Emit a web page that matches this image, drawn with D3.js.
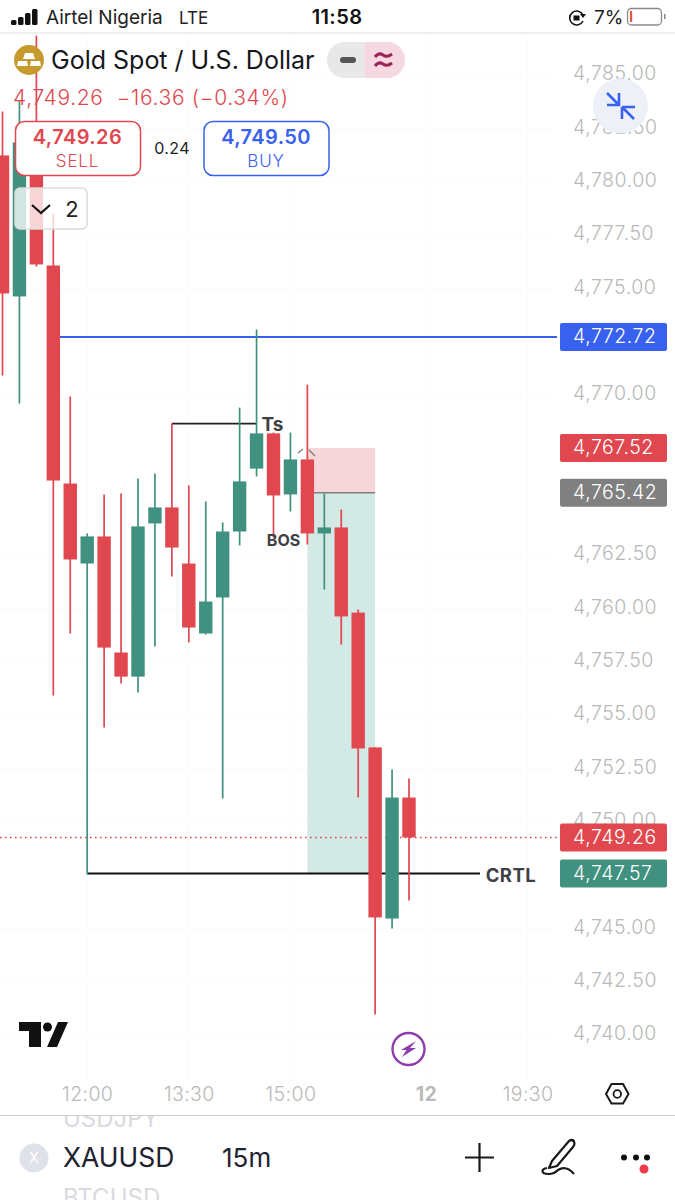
<!DOCTYPE html>
<html>
<head>
<meta charset="utf-8">
<style>
  html, body { margin: 0; padding: 0; background: #fff; }
  svg { display: block; }
  text { font-family: Inter, "Noto Sans", sans-serif; white-space: pre; }
</style>
<script src="https://cdn.jsdelivr.net/npm/d3@7"></script>
</head>
<body>
<script>
// 15m bars, left to right
const highs = [4783.29, 4783.8, 4786.85, 4778.51, 4769.93, 4763.51, 4765.34, 4765.38, 4766.09, 4766.32, 4768.66, 4765.76, 4765.01, 4764.02, 4769.41, 4773.07, 4768.24, 4768.24, 4770.49, 4765.38, 4764.63, 4759.95, 4753.48, 4752.45, 4752.02];
const opens = [4781.23, 4774.62, 4780.29, 4776.07, 4765.85, 4762.1, 4763.37, 4757.93, 4756.8, 4763.98, 4764.73, 4762.1, 4758.82, 4760.51, 4763.6, 4766.55, 4768.2, 4765.34, 4766.98, 4763.51, 4763.79, 4759.8, 4753.48, 4745.46, 4751.13];
const closes = [4774.76, 4781.84, 4776.12, 4765.99, 4762.29, 4763.37, 4758.16, 4756.8, 4763.84, 4764.73, 4762.85, 4759.1, 4760.32, 4763.6, 4765.95, 4768.2, 4765.29, 4766.98, 4763.51, 4763.79, 4759.62, 4753.43, 4745.51, 4751.13, 4749.26];
const lows = [4770.91, 4769.6, 4776.02, 4755.91, 4758.82, 4747.52, 4754.41, 4756.48, 4756.05, 4758.21, 4761.49, 4758.4, 4758.77, 4751.09, 4762.95, 4766.18, 4763.32, 4764.54, 4762.99, 4760.88, 4758.3, 4751.13, 4740.96, 4744.99, 4746.3];

const priceTicks = [4785, 4782.5, 4780, 4777.5, 4775, 4770, 4762.5, 4760, 4757.5, 4755, 4752.5, 4750, 4745, 4742.5, 4740];
const timeTicks = [5, 11, 17, 25, 31];
const timeLabels = ["12:00", "13:30", "15:00", "12", "19:30"];

const lastPrice = 4749.26;
const highLine = 4772.72;
const sweepLevel = 4768.66;
const crtlLevel = 4747.57;
const stopLevel = 4767.52;
const entryLevel = 4765.42;

const priceTags = [
  { value: highLine, color: "#3861f0" },
  { value: stopLevel, color: "#e0474f" },
  { value: entryLevel, color: "#808080" },
  { value: lastPrice, color: "#e0474f" },
  { value: crtlLevel, color: "#40917f" },
];

const red = "#e0474f";
const green = "#40917f";
const blue = "#3861f0";
const grey = "#b9b9b9";

const width = 675, height = 1200;

const x = d3.scaleLinear().domain([0, 24]).range([2.5, 409]);
const y = d3.scaleLinear().domain([4785, 4740]).range([75, 1035]);

const bars = opens.map((o, i) => ({ i, o, c: closes[i], h: highs[i], l: lows[i] }));

const svg = d3.select("body").append("svg").attr("width", width).attr("height", height);

svg.append("rect").attr("width", width).attr("height", height).attr("fill", "#fff");

svg.append("defs").append("clipPath").attr("id", "plot")
  .append("rect").attr("x", 0).attr("y", 33).attr("width", 557).attr("height", 1050);
svg.select("defs").append("clipPath").attr("id", "strip")
  .append("rect").attr("x", 0).attr("y", 1116).attr("width", width).attr("height", 84);

// faint grid
const grid = svg.append("g").attr("stroke", "#fbfbfd");
grid.selectAll("line.h").data(priceTicks).enter().append("line").attr("class", "h")
  .attr("x1", 0).attr("x2", 557).attr("y1", (d) => y(d)).attr("y2", (d) => y(d));
grid.selectAll("line.v").data(timeTicks).enter().append("line").attr("class", "v")
  .attr("x1", (d) => x(d)).attr("x2", (d) => x(d)).attr("y1", 33).attr("y2", 1083);

const plot = svg.append("g").attr("clip-path", "url(#plot)");

// long position box
plot.append("rect").attr("x", x(18)).attr("width", x(22) - x(18))
  .attr("y", y(stopLevel)).attr("height", y(entryLevel) - y(stopLevel)).attr("fill", "#f7d6da");
plot.append("rect").attr("x", x(18)).attr("width", x(22) - x(18))
  .attr("y", y(entryLevel)).attr("height", y(crtlLevel) - y(entryLevel)).attr("fill", "#d3e9e6");
plot.append("line").attr("x1", x(18)).attr("x2", x(22)).attr("y1", y(entryLevel)).attr("y2", y(entryLevel))
  .attr("stroke", "#808080").attr("stroke-width", 1.5);

// drawn levels
plot.append("line").attr("x1", x(3)).attr("x2", 557).attr("y1", y(highLine)).attr("y2", y(highLine))
  .attr("stroke", blue).attr("stroke-width", 2);
plot.append("line").attr("x1", x(10)).attr("x2", x(15)).attr("y1", y(sweepLevel)).attr("y2", y(sweepLevel))
  .attr("stroke", "#222").attr("stroke-width", 1.8);
plot.append("line").attr("x1", x(5)).attr("x2", 480).attr("y1", y(crtlLevel)).attr("y2", y(crtlLevel))
  .attr("stroke", "#111").attr("stroke-width", 1.8);
plot.append("line").attr("x1", 0).attr("x2", 557).attr("y1", y(lastPrice)).attr("y2", y(lastPrice))
  .attr("stroke", red).attr("stroke-width", 1.4).attr("stroke-dasharray", "1.6 3.4");

const candle = plot.selectAll("g.candle").data(bars).enter().append("g").attr("class", "candle")
  .attr("fill", (d) => (d.c >= d.o ? green : red))
  .attr("stroke", (d) => (d.c >= d.o ? green : red));
candle.append("line").attr("x1", (d) => x(d.i)).attr("x2", (d) => x(d.i))
  .attr("y1", (d) => y(d.h)).attr("y2", (d) => y(d.l)).attr("stroke-width", 1.7);
candle.append("rect").attr("stroke", "none")
  .attr("x", (d) => x(d.i) - 6.7).attr("width", 13.4)
  .attr("y", (d) => y(Math.max(d.o, d.c)))
  .attr("height", (d) => Math.max(1, Math.abs(y(d.o) - y(d.c))));

// little chevron over the BOS candle
svg.append("path").attr("d", "M298,453 L303,449 M309,450 L315,456")
  .attr("fill", "none").attr("stroke", "#777").attr("stroke-width", 1.2);

const note = (txt, px, py) => svg.append("text").attr("x", px).attr("y", py).attr("text-anchor", "middle")
  .attr("dy", "0.36em").attr("font-size", 17).attr("font-weight", 700).attr("fill", "#3f4144").text(txt);
note("Ts", 272.5, 424).attr("font-size", 19);
note("BOS", 283.5, 540).attr("font-size", 16);
note("CRTL", 511, 875).attr("font-size", 18.5).attr("letter-spacing", 0.5);

// price axis
const yAxis = svg.append("g").attr("transform", "translate(573,0)")
  .call(d3.axisRight(y).tickValues(priceTicks).tickFormat(d3.format(",.2f")).tickSize(0).tickPadding(0));
yAxis.select(".domain").remove();
yAxis.selectAll("text").attr("font-size", 19.5).attr("fill", grey).attr("dy", "0.24em")
  .style("font-family", "Inter, sans-serif").attr("font-weight", 300).attr("letter-spacing", 0.55);

// time axis
const xAxis = svg.append("g").attr("transform", "translate(0,1099)")
  .call(d3.axisBottom(x).tickValues(timeTicks).tickFormat((d, i) => timeLabels[i]).tickSize(0).tickPadding(0));
xAxis.select(".domain").remove();
xAxis.selectAll("text").attr("font-size", 19.5).attr("fill", grey).attr("dy", "0.1em")
  .style("font-family", "Inter, sans-serif")
  .attr("font-weight", (d, i) => (timeLabels[i] === "12" ? 700 : 300))
  .attr("letter-spacing", 0.4);

// price tags on the axis
const tag = svg.selectAll("g.tag").data(priceTags).enter().append("g").attr("class", "tag")
  .attr("transform", (d) => `translate(560,${y(d.value)})`);
tag.append("rect").attr("x", 0).attr("y", -14).attr("width", 107).attr("height", 28).attr("rx", 2)
  .attr("fill", (d) => d.color);
tag.append("text").attr("x", 13).attr("dy", "0.32em").attr("font-size", 19.5).attr("fill", "#fff")
  .attr("font-weight", 300).attr("letter-spacing", 0.55).text((d) => d3.format(",.2f")(d.value));

// header
svg.append("line").attr("x1", 0).attr("x2", width).attr("y1", 33).attr("y2", 33)
  .attr("stroke", "#dde0e7").attr("stroke-width", 1);

const coin = svg.append("g").attr("transform", "translate(29,60)");
coin.append("circle").attr("r", 15).attr("fill", "#c79a2d");
coin.append("path").attr("fill", "#fff").attr("d", "M-4,-7 L4,-7 L6,-1 L-6,-1 Z M-11,1 L-2,1 L-1,6 L-12,6 Z M2,1 L11,1 L12,6 L1,6 Z");

svg.append("text").attr("x", 51).attr("y", 69).attr("font-size", 25).attr("fill", "#15171c").attr("font-weight", 400).text("Gold Spot / U.S. Dollar");

svg.append("path").attr("fill", "#e8e8e8").attr("d", "M365,42 H345 A18,18 0 0 0 345,78 H365 Z");
svg.append("path").attr("fill", "#f6d9e0").attr("d", "M365,42 H387 A18,18 0 0 1 387,78 H365 Z");
svg.append("line").attr("x1", 343).attr("x2", 353).attr("y1", 60).attr("y2", 60)
  .attr("stroke", "#555").attr("stroke-width", 6).attr("stroke-linecap", "round");
svg.append("path").attr("fill", "none").attr("stroke", "#9c2358").attr("stroke-width", 3)
  .attr("d", "M375,57 Q379,52 383,55 T392,54 M375,66 Q379,61 383,64 T392,63");

svg.append("text").attr("x", 13).attr("y", 105).attr("font-size", 21).attr("fill", red).attr("font-weight", 300)
  .attr("letter-spacing", 0.65).text("4,749.26  −16.36 (−0.34%)");

const button = (bx, color, price, label) => {
  const g = svg.append("g").attr("transform", `translate(${bx},121)`);
  g.append("rect").attr("x", 0.5).attr("y", 0.5).attr("width", 125).attr("height", 54).attr("rx", 9)
    .attr("fill", "#fff").attr("stroke", color).attr("stroke-width", 1.5);
  g.append("text").attr("x", 62.5).attr("y", 23).attr("text-anchor", "middle").attr("font-size", 20)
    .attr("font-weight", 600).attr("letter-spacing", 0.4).attr("fill", color).text(price);
  g.append("text").attr("x", 62.5).attr("y", 46).attr("text-anchor", "middle").attr("font-size", 17)
    .attr("font-weight", 300).attr("letter-spacing", 0.8).attr("fill", color).text(label);
};
button(15, red, "4,749.26", "SELL");
button(203.5, blue, "4,749.50", "BUY");
svg.append("text").attr("x", 172).attr("y", 154).attr("text-anchor", "middle").attr("font-size", 16)
  .attr("letter-spacing", 0.4).attr("fill", "#222").text("0.24");

svg.append("rect").attr("x", 15).attr("y", 188).attr("width", 72).attr("height", 41).attr("rx", 5)
  .attr("fill", "#fff").attr("fill-opacity", 0.77).attr("stroke", "#dcdcdc").attr("stroke-width", 1.5);
svg.append("path").attr("d", "M32,205 L41,213 L50,205").attr("fill", "none").attr("stroke", "#111").attr("stroke-width", 2.2);
svg.append("text").attr("x", 72).attr("y", 217).attr("text-anchor", "middle").attr("font-size", 22).attr("fill", "#222").text("2");

// collapse button
svg.append("circle").attr("cx", 620.5).attr("cy", 106).attr("r", 27.5).attr("fill", "#eef0f8");
svg.append("path").attr("fill", "none").attr("stroke", blue).attr("stroke-width", 2.6)
  .attr("d", "M607,93 L619,105 M607,105 H619 V93 M622,107 H635 M622,107 V119 M622,107 L634,119");

// status bar
[[11, 5], [18, 8], [25, 12], [32, 16]].forEach(([bx, h]) => {
  svg.append("rect").attr("x", bx).attr("y", 25 - h).attr("width", 5.5).attr("height", h)
    .attr("rx", 1.5).attr("fill", "#111");
});
svg.append("text").attr("x", 46).attr("y", 24).attr("font-size", 19).attr("fill", "#222").text("Airtel Nigeria");
svg.append("text").attr("x", 179).attr("y", 24).attr("font-size", 17).attr("fill", "#222").text("LTE");
svg.append("text").attr("x", 337).attr("y", 24).attr("text-anchor", "middle").attr("font-size", 20)
  .attr("font-weight", 600).attr("letter-spacing", 0.4).attr("fill", "#111").text("11:58");
// rotation lock
svg.append("path").attr("fill", "none").attr("stroke", "#111").attr("stroke-width", 1.6)
  .attr("d", "M583,15 A7,7 0 1 0 583,21");
svg.append("path").attr("fill", "#111").attr("d", "M580,14 L586,14 L583,18 Z");
svg.append("rect").attr("x", 573.5).attr("y", 15.5).attr("width", 6).attr("height", 5).attr("fill", "#111");
svg.append("text").attr("x", 594).attr("y", 24).attr("font-size", 19).attr("fill", "#222").text("7%");
svg.append("rect").attr("x", 627.5).attr("y", 8.5).attr("width", 34).attr("height", 16.5).attr("rx", 4)
  .attr("fill", "none").attr("stroke", "#8a8a8a").attr("stroke-width", 1.3);
svg.append("rect").attr("x", 630).attr("y", 11).attr("width", 2.2).attr("height", 11).attr("fill", "#e0563f");
svg.append("rect").attr("x", 664).attr("y", 14).attr("width", 1.6).attr("height", 5).attr("fill", "#8a8a8a");

// TradingView mark
svg.append("path").attr("fill", "#111")
  .attr("d", "M19,1022 H41 V1047 H29 V1031 H19 Z M58,1022 H68 L57,1047 H47 Z");
svg.append("circle").attr("cx", 47.5).attr("cy", 1027).attr("r", 4.5).attr("fill", "#111");

// lightning badge
svg.append("circle").attr("cx", 408.5).attr("cy", 1049).attr("r", 16).attr("fill", "#fff")
  .attr("stroke", "#8e3cab").attr("stroke-width", 2.4);
svg.append("path").attr("fill", "#8e3cab").attr("d", "M416,1041 L401,1050 L406.5,1050 L402,1057 L416,1048 L410,1048 Z");

// chart settings hexagon
svg.append("path").attr("fill", "none").attr("stroke", "#1a1a1a").attr("stroke-width", 2)
  .attr("d", "M606,1094 L611.5,1084 H623 L628.5,1094 L623,1103.5 H611.5 Z");
svg.append("circle").attr("cx", 617.3).attr("cy", 1094).attr("r", 3.8).attr("fill", "none").attr("stroke", "#1a1a1a").attr("stroke-width", 1.8);

// bottom bar
svg.append("line").attr("x1", 0).attr("x2", width).attr("y1", 1115.5).attr("y2", 1115.5)
  .attr("stroke", "#d0d0d0").attr("stroke-width", 1);
const strip = svg.append("g").attr("clip-path", "url(#strip)");
strip.append("text").attr("x", 63).attr("y", 1127).attr("font-size", 24).attr("fill", "#d8dae0").text("USDJPY");
strip.append("text").attr("x", 63).attr("y", 1206).attr("font-size", 24).attr("fill", "#d8dae0").text("BTCUSD");
svg.append("circle").attr("cx", 34).attr("cy", 1158).attr("r", 14.5).attr("fill", "#dfe2ea");
svg.append("text").attr("x", 34).attr("y", 1158).attr("dy", "0.36em").attr("text-anchor", "middle")
  .attr("font-size", 14).attr("fill", "#fff").text("X");
svg.append("text").attr("x", 63).attr("y", 1167).attr("font-size", 26.5).attr("fill", "#1e2230").text("XAUUSD");
svg.append("text").attr("x", 222).attr("y", 1167).attr("font-size", 26).attr("fill", "#1e2230").text("15m");

svg.append("path").attr("fill", "none").attr("stroke", "#1a1a1a").attr("stroke-width", 2.2)
  .attr("d", "M465,1157.5 H494 M479.5,1143 V1172");
svg.append("path").attr("fill", "none").attr("stroke", "#1a1a1a").attr("stroke-width", 2.2).attr("stroke-linejoin", "round")
  .attr("d", "M552,1161 L569,1141 Q572,1139 574,1141 L573,1141 Q576,1143 573,1147 L557,1166 L549,1168 Z M543,1173 Q541,1169 547,1168 M543,1173 Q552,1176 558,1170 Q566,1165 574,1174");
[624, 636, 647].forEach((cx) => {
  svg.append("circle").attr("cx", cx).attr("cy", 1157.5).attr("r", 3).attr("fill", "#111");
});
svg.append("circle").attr("cx", 644).attr("cy", 1169).attr("r", 4.5).attr("fill", "#ea3a4c");
</script>
</body>
</html>
